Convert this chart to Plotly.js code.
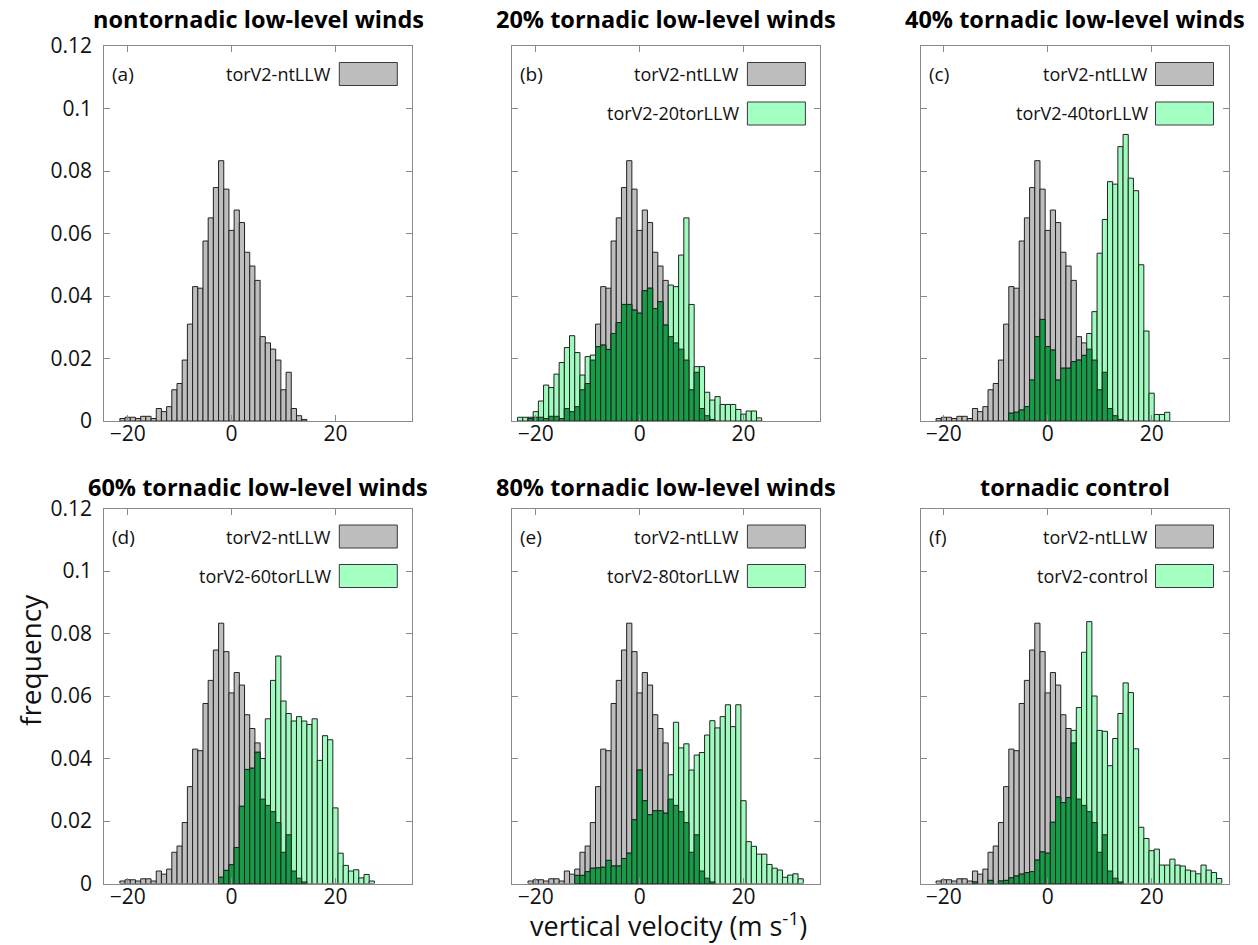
<!DOCTYPE html>
<html>
<head>
<meta charset="utf-8">
<script src="https://cdn.plot.ly/plotly-3.0.1.min.js"></script>
<style>html,body{margin:0;padding:0;background:#fff;}#chart{width:1258px;height:945px;}</style>
</head>
<body>
<div id="chart"></div>
<script>
// ---------------- DATA (bin centres are integer vertical velocities, 1 m/s bins) ----------------
const panelTitles = ["nontornadic low-level winds", "20% tornadic low-level winds", "40% tornadic low-level winds",
                     "60% tornadic low-level winds", "80% tornadic low-level winds", "tornadic control"];
const panelLabels = ["(a)", "(b)", "(c)", "(d)", "(e)", "(f)"];
const refName = "torV2-ntLLW";
const expNames = [null, "torV2-20torLLW", "torV2-40torLLW", "torV2-60torLLW", "torV2-80torLLW", "torV2-control"];
const xTickVals = [-20, 0, 20];
const yTickVals = [0, 0.02, 0.04, 0.06, 0.08, 0.1, 0.12];

// reference run (same in every panel), first bin at -21
const ntStart = -21;
const ntFreq = [0.0008, 0.0012, 0.0012, 0.0008, 0.0015, 0.0015, 0.0008, 0.004, 0.003, 0.0046,
  0.010, 0.012, 0.0195, 0.031, 0.043, 0.0425, 0.0576, 0.065, 0.0747, 0.0833,
  0.0742, 0.061, 0.0675, 0.0635, 0.054, 0.0496, 0.045, 0.027, 0.025, 0.023,
  0.0195, 0.010, 0.0156, 0.004, 0.0017, 0.0005];

// 20% tornadic LLW, first bin at -23
const tor20Start = -23;
const tor20Freq = [0.0012, 0.0012, 0.0012, 0.003, 0.0064, 0.0115, 0.0107, 0.015, 0.0187, 0.0235,
  0.0273, 0.0219, 0.0147, 0.0206, 0.0211, 0.0238, 0.0243, 0.0229, 0.028, 0.0315,
  0.0373, 0.0373, 0.0355, 0.0345, 0.0417, 0.0425, 0.036, 0.0382, 0.0307, 0.0435,
  0.043, 0.0531, 0.065, 0.0373, 0.0174, 0.0174, 0.0092, 0.0067, 0.0078, 0.0053,
  0.0053, 0.0053, 0.0037, 0.0022, 0.0032, 0.0032, 0.001];

// 40% tornadic LLW, first bin at -7
const tor40Start = -7;
const tor40Freq = [0.0025, 0.0028, 0.0035, 0.0046, 0.0131, 0.027, 0.0325, 0.0238, 0.0227, 0.0131,
  0.0169, 0.0169, 0.019, 0.0195, 0.021, 0.028, 0.035, 0.0537, 0.0645, 0.0766,
  0.0758, 0.0878, 0.0917, 0.0777, 0.0737, 0.05, 0.0288, 0.0089, 0.0021, 0.0021, 0.0028];

// 60% tornadic LLW, first bin at -2
const tor60Start = -2;
const tor60Freq = [0.002, 0.0042, 0.006, 0.0115, 0.0247, 0.0365, 0.0369, 0.042, 0.040, 0.0527,
  0.065, 0.0728, 0.0584, 0.0544, 0.052, 0.0534, 0.052, 0.0509, 0.0527, 0.0394,
  0.0473, 0.046, 0.0242, 0.0097, 0.0058, 0.004, 0.0044, 0.0018, 0.0029, 0.0008];

// 80% tornadic LLW, first bin at -12
const tor80Start = -12;
const tor80Freq = [0.0026, 0.0026, 0.0038, 0.0049, 0.005, 0.0052, 0.0074, 0.0056, 0.0056, 0.008,
  0.0097, 0.0204, 0.0363, 0.0265, 0.022, 0.0233, 0.0233, 0.0225, 0.0348, 0.0516,
  0.0434, 0.0447, 0.0363, 0.0411, 0.0419, 0.0475, 0.0521, 0.0498, 0.0534, 0.0572,
  0.0502, 0.0572, 0.0265, 0.0134, 0.0119, 0.0094, 0.0094, 0.0061, 0.0049, 0.0043,
  0.002, 0.0027, 0.0031, 0.0015];

// tornadic control, first bin at -14 (null = empty bin)
const ctrlStart = -14;
const ctrlFreq = [0.0005, null, null, 0.001, null, 0.0008, 0.001, 0.0018, 0.0024, 0.003,
  0.0035, 0.0038, 0.0075, 0.0101, 0.0097, 0.0196, 0.0277, 0.0259, 0.0275, 0.049,
  0.0563, 0.074, 0.0838, 0.060, 0.049, 0.0487, 0.0377, 0.0464, 0.0544, 0.0642,
  0.0611, 0.0431, 0.018, 0.0144, 0.0105, 0.011, 0.0059, 0.0059, 0.0078, 0.0059,
  0.0056, 0.0043, 0.004, 0.0031, 0.0059, 0.0043, 0.0035, 0.0016];

const expStarts = [null, tor20Start, tor40Start, tor60Start, tor80Start, ctrlStart];
const expFreqs  = [null, tor20Freq, tor40Freq, tor60Freq, tor80Freq, ctrlFreq];

// ---------------- STYLE / LAYOUT CONSTANTS ----------------
const W = 1258, H = 945;
const colLeft = [104.3, 512.4, 920.5];
const rowTop = [46, 508.5];
const panelW = 308, panelH = 375;
const grayFill = '#bdbdbd', greenFill = '#9ffbbd', darkFill = '#169c47';
const edge = '#222222';
const axisCol = '#8a8a8a';
const FONT = 'Open Sans, Noto Sans, sans-serif';

function xs(start, vals) { return vals.map((_, i) => start + i); }

const traces = [];
const annotations = [];
const shapes = [];
const layout = {
  width: W, height: H, margin: {l: 0, r: 0, t: 0, b: 0},
  paper_bgcolor: '#fff', plot_bgcolor: '#fff',
  barmode: 'overlay', bargap: 0, showlegend: false,
  font: {family: FONT, color: '#111', size: 21}
};

for (let p = 0; p < 6; p++) {
  const r = Math.floor(p / 3), c = p % 3;
  const L = colLeft[c], T = rowTop[r];
  const sfx = p === 0 ? '' : String(p + 1);
  const xa = 'x' + sfx, ya = 'y' + sfx;
  layout['xaxis' + sfx] = {
    domain: [L / W, (L + panelW) / W], anchor: ya,
    range: [-24.5, 34.8], tickvals: xTickVals, ticks: 'inside', ticklen: 6,
    tickcolor: axisCol, showline: true, linecolor: axisCol, linewidth: 1, mirror: 'ticks',
    showgrid: false, zeroline: false, tickfont: {size: 21, family: FONT, color: '#111'},
    ticklabelstandoff: -6, fixedrange: true
  };
  layout['yaxis' + sfx] = {
    domain: [1 - (T + panelH) / H, 1 - T / H], anchor: xa,
    range: [0, 0.12], tickvals: yTickVals, ticks: 'inside', ticklen: 6,
    tickcolor: axisCol, showline: true, linecolor: axisCol, linewidth: 1, mirror: 'ticks',
    showgrid: false, zeroline: false, showticklabels: c === 0,
    tickfont: {size: 21, family: FONT, color: '#111'}, ticklabelstandoff: 7, fixedrange: true
  };

  // reference histogram
  const gx = xs(ntStart, ntFreq);
  traces.push({type: 'bar', x: gx, y: ntFreq, xaxis: xa, yaxis: ya, width: 1,
    marker: {color: grayFill, line: {color: edge, width: 1}}, name: refName, hoverinfo: 'x+y'});

  if (expFreqs[p]) {
    const ex = xs(expStarts[p], expFreqs[p]);
    traces.push({type: 'bar', x: ex, y: expFreqs[p], xaxis: xa, yaxis: ya, width: 1,
      marker: {color: greenFill, line: {color: edge, width: 1}}, name: expNames[p], hoverinfo: 'x+y'});
    // overlap region (where both histograms cover the same area)
    const gmap = {};
    gx.forEach((v, i) => { gmap[v] = ntFreq[i]; });
    const ov = ex.map((v, i) => (gmap[v] != null && expFreqs[p][i] != null) ? Math.min(gmap[v], expFreqs[p][i]) : null);
    traces.push({type: 'bar', x: ex, y: ov, xaxis: xa, yaxis: ya, width: 1,
      marker: {color: darkFill, line: {color: edge, width: 1}}, name: 'overlap', hoverinfo: 'skip'});
  }

  // panel title
  annotations.push({text: '<b>' + panelTitles[p] + '</b>', xref: 'paper', yref: 'paper',
    x: (L + panelW / 2) / W, y: 1 - (T - (r === 0 ? 27 : 22)) / H, xanchor: 'center', yanchor: 'middle',
    showarrow: false, font: {size: 23.5, family: FONT, color: '#000'}});
  // panel label
  annotations.push({text: panelLabels[p], xref: 'paper', yref: 'paper',
    x: (L + 6) / W, y: 1 - (T + 28) / H, xanchor: 'left', yanchor: 'middle',
    showarrow: false, font: {size: 19, family: FONT, color: '#111'}});

  // legend (text to the left of the swatch)
  const entries = [[refName, grayFill]];
  if (expNames[p]) entries.push([expNames[p], '#a3ffc2']);
  entries.forEach((e, j) => {
    const cy = T + 28 + j * 39.5;
    const bx1 = L + panelW - 15, bx0 = bx1 - 58;
    shapes.push({type: 'rect', xref: 'paper', yref: 'paper',
      x0: bx0 / W, x1: bx1 / W, y0: 1 - (cy - 11.5) / H, y1: 1 - (cy + 11.5) / H,
      fillcolor: e[1], line: {color: '#3a3a3a', width: 1}});
    annotations.push({text: e[0], xref: 'paper', yref: 'paper',
      x: (bx0 - 6) / W, y: 1 - cy / H, xanchor: 'right', yanchor: 'middle',
      showarrow: false, font: {size: 18, family: FONT, color: '#111'}});
  });
}

// shared axis titles
annotations.push({text: 'frequency', xref: 'paper', yref: 'paper', x: 30 / W, y: 1 - 660 / H,
  xanchor: 'center', yanchor: 'middle', textangle: -90, showarrow: false,
  font: {size: 28, family: FONT, color: '#111'}});
annotations.push({text: 'vertical velocity (m s<sup>-1</sup>)', xref: 'paper', yref: 'paper',
  x: 668 / W, y: 1 - 924 / H, xanchor: 'center', yanchor: 'middle', showarrow: false,
  font: {size: 27, family: FONT, color: '#111'}});

layout.annotations = annotations;
layout.shapes = shapes;

Plotly.newPlot('chart', traces, layout, {displayModeBar: false, staticPlot: true});
</script>
</body>
</html>
